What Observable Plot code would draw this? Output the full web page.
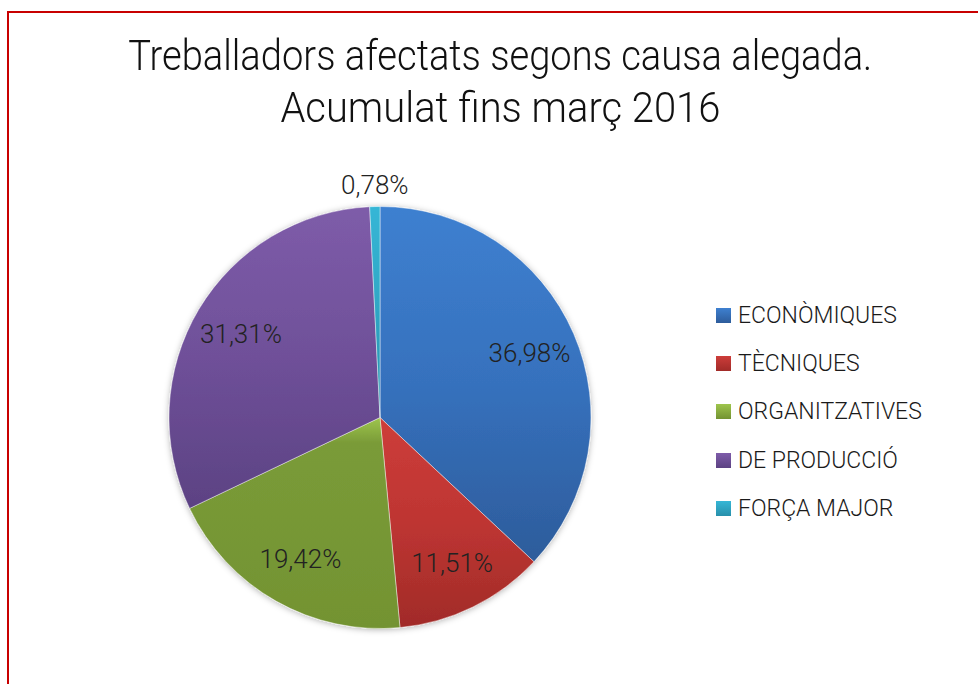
<!DOCTYPE html>
<html><head><meta charset="utf-8">
<script src="https://cdn.jsdelivr.net/npm/d3@7"></script>
<script src="https://cdn.jsdelivr.net/npm/@observablehq/plot@0.6"></script>
<style>
body{margin:0;background:#fff;}
#wrap{position:relative;width:978px;height:684px;overflow:hidden;font-family:Roboto,"Noto Sans",sans-serif;background:#fff;}
#frame{position:absolute;left:7px;top:11px;width:1100px;height:800px;border-left:2px solid #C80000;border-top:2px solid #C80000;}
#chart{position:absolute;left:0;top:0;}
#title{position:absolute;left:11px;top:30px;width:978px;text-align:center;font-weight:300;font-size:42px;line-height:52px;color:#111;}
#title div{display:block;white-space:nowrap;}
#title span{display:inline-block;transform-origin:center;}
#legend{position:absolute;left:716px;top:291px;font-weight:300;font-size:23px;color:#1a1a1a;}
.row{display:flex;align-items:center;height:48.3px;}
.sw{width:15px;height:15px;margin-right:7px;}
</style></head>
<body>
<div id="wrap">
  <div id="frame"></div>
  <div id="chart"></div>
  <div id="title"></div>
  <div id="legend"></div>
</div>
<script>
const categories = ["ECONÒMIQUES", "TÈCNIQUES", "ORGANITZATIVES", "DE PRODUCCIÓ", "FORÇA MAJOR"];
const values = [36.98, 11.51, 19.42, 31.31, 0.78];
const titleLines = ["Treballadors afectats segons causa alegada.", "Acumulat fins març 2016"];
const titleWidths = [744, 440];

const topColors = ["#3E80D0", "#CD3D3A", "#9EC54D", "#7E5CA9", "#36B6D6"];
const midColors = ["#3671BD", "#BE3532", "#7A9B38", "#6F5099", "#2FA6C4"];
const bottomColors = ["#2D5C9B", "#A12B28", "#739332", "#5C4283", "#2890AB"];

const fmt = v => d3.format(".2f")(v).replace(".", ",") + "%";
const arcs = d3.pie().sort(null).value(d => d)(values);
const labelData = arcs.map((a, i) => {
  const mid = (a.startAngle + a.endAngle) / 2;
  const k = values[i] < 2 ? 1.1 : 0.77;
  return {x: Math.sin(mid) * k, y: Math.cos(mid) * k, label: fmt(values[i])};
});

function pieMark(index, scales) {
  const cx = scales.x(0), cy = scales.y(0), r = scales.x(1) - scales.x(0);
  const g = d3.create("svg:g");
  const defs = g.append("defs");
  const f = defs.append("filter").attr("id", "shadow").attr("x", "-20%").attr("y", "-20%").attr("width", "140%").attr("height", "140%");
  f.append("feDropShadow").attr("dx", 0).attr("dy", 1).attr("stdDeviation", 3).attr("flood-color", "#000").attr("flood-opacity", 0.3);
  values.forEach((v, i) => {
    const lg = defs.append("linearGradient").attr("id", "grad" + i).attr("x1", 0).attr("y1", 0).attr("x2", 0).attr("y2", 1);
    lg.append("stop").attr("offset", 0).attr("stop-color", topColors[i]);
    lg.append("stop").attr("offset", i === 2 ? 0.12 : 0.5).attr("stop-color", midColors[i]);
    lg.append("stop").attr("offset", 1).attr("stop-color", bottomColors[i]);
  });
  const arc = d3.arc().innerRadius(0).outerRadius(r);
  const pg = g.append("g").attr("transform", `translate(${cx},${cy})`).attr("filter", "url(#shadow)");
  pg.selectAll("path").data(arcs).join("path")
    .attr("d", arc)
    .attr("fill", (d, i) => `url(#grad${i})`)
    .attr("stroke", "rgba(255,255,255,0.55)")
    .attr("stroke-width", 0.8)
    .attr("stroke-linejoin", "round");
  return g.node();
}

const plot = Plot.plot({
  width: 978,
  height: 684,
  margin: 0,
  style: {background: "transparent", overflow: "visible"},
  x: {domain: [-1, 1], range: [169, 591], axis: null},
  y: {domain: [-1, 1], range: [628.5, 206.5], axis: null},
  marks: [
    pieMark,
    Plot.text(labelData, {x: "x", y: "y", text: "label", fontSize: 26, fontWeight: 300, fill: "#222", fontFamily: "Roboto"})
  ]
});
document.getElementById("chart").appendChild(plot);

const title = document.getElementById("title");
titleLines.forEach((t, i) => {
  const d = document.createElement("div");
  const s = document.createElement("span");
  s.textContent = t;
  d.appendChild(s);
  title.appendChild(d);
  const w = s.getBoundingClientRect().width;
  s.style.transform = `scaleX(${titleWidths[i] / w})`;
});

const legend = document.getElementById("legend");
categories.forEach((c, i) => {
  const row = document.createElement("div");
  row.className = "row";
  const sw = document.createElement("div");
  sw.className = "sw";
  sw.style.background = `linear-gradient(${topColors[i]}, ${bottomColors[i]})`;
  const tx = document.createElement("span");
  tx.textContent = c;
  row.appendChild(sw);
  row.appendChild(tx);
  legend.appendChild(row);
});
</script>
</body></html>
